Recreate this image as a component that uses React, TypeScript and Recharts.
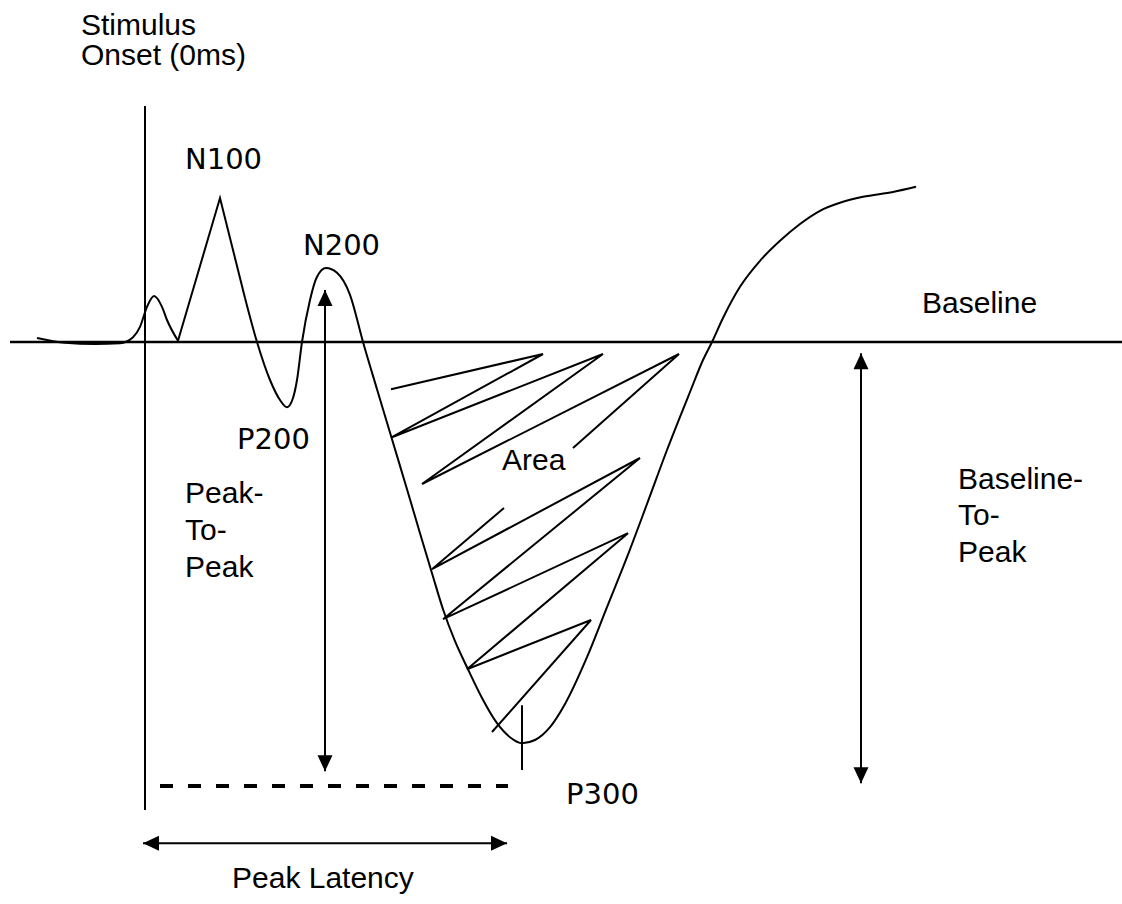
import React from "react";
import { ComposedChart, Line, Scatter, XAxis, YAxis, ReferenceLine } from "recharts";

// x: time from stimulus onset (ms), y: amplitude (µV, negative plotted up)
const preStimulus = [
  { x: -108, y: -0.1 },
  { x: -80, y: 0.02 },
  { x: -50, y: 0.05 },
  { x: -25, y: 0.03 },
  { x: -12, y: -0.12 },
  { x: -5, y: -0.38 },
  { x: 2, y: -0.88 },
  { x: 9, y: -1.15 },
  { x: 17, y: -0.88 },
  { x: 22, y: -0.55 },
  { x: 33, y: -0.03 },
];

const n100Spike = [
  { x: 33, y: -0.03 },
  { x: 75, y: -3.6 },
  { x: 100, y: -1.1 },
];

const lateWave = [
  { x: 100, y: -1.1 },
  { x: 112, y: 0 },
  { x: 125, y: 0.95 },
  { x: 135, y: 1.45 },
  { x: 142, y: 1.63 },
  { x: 148, y: 1.4 },
  { x: 152, y: 0.95 },
  { x: 157, y: 0 },
  { x: 165, y: -1.05 },
  { x: 172, y: -1.63 },
  { x: 181, y: -1.85 },
  { x: 192, y: -1.73 },
  { x: 205, y: -1.18 },
  { x: 218, y: 0 },
  { x: 232, y: 1.18 },
  { x: 247, y: 2.43 },
  { x: 262, y: 3.68 },
  { x: 275, y: 4.78 },
  { x: 287, y: 5.78 },
  { x: 298, y: 6.68 },
  { x: 310, y: 7.48 },
  { x: 322, y: 8.13 },
  { x: 337, y: 8.9 },
  { x: 352, y: 9.53 },
  { x: 365, y: 9.88 },
  { x: 377, y: 10.03 },
  { x: 390, y: 9.95 },
  { x: 405, y: 9.63 },
  { x: 420, y: 9.05 },
  { x: 442, y: 7.88 },
  { x: 462, y: 6.63 },
  { x: 482, y: 5.38 },
  { x: 502, y: 4.05 },
  { x: 522, y: 2.7 },
  { x: 545, y: 1.25 },
  { x: 558, y: 0.45 },
  { x: 567, y: 0 },
  { x: 578, y: -0.6 },
  { x: 595, y: -1.38 },
  { x: 615, y: -2.03 },
  { x: 635, y: -2.53 },
  { x: 655, y: -2.95 },
  { x: 675, y: -3.28 },
  { x: 695, y: -3.48 },
  { x: 718, y: -3.63 },
  { x: 748, y: -3.75 },
  { x: 771, y: -3.88 },
];

// "Area" hatching, drawn as two zig-zag strokes
const hatchUpper = [
  { x: 246, y: 1.18 },
  { x: 398, y: 0.3 },
  { x: 247, y: 2.38 },
  { x: 458, y: 0.3 },
  { x: 277, y: 3.55 },
  { x: 534, y: 0.3 },
  { x: 428, y: 2.65 },
];

const hatchLower = [
  { x: 359, y: 4.15 },
  { x: 287, y: 5.68 },
  { x: 495, y: 2.9 },
  { x: 298, y: 6.93 },
  { x: 483, y: 4.78 },
  { x: 322, y: 8.18 },
  { x: 446, y: 6.95 },
  { x: 347, y: 9.75 },
];

const baselineSeg = [{ x: -135, y: 0 }, { x: 977, y: 0 }];
const onsetSeg = [{ x: 0, y: -5.9 }, { x: 0, y: 11.7 }];
const p300Tick = [{ x: 377, y: 9.08 }, { x: 377, y: 10.7 }];
const peakToPeakArrow = [{ x: 180, y: -1.3 }, { x: 180, y: 10.73 }];
const baselineToPeakArrow = [{ x: 716, y: 0.28 }, { x: 716, y: 11.03 }];
const latencyArrow = [{ x: -2, y: 12.53 }, { x: 362, y: 12.53 }];
const latencyDashes = [{ x: 15, y: 11.1 }, { x: 363, y: 11.1 }];

const textLabels = [
  { x: -64, y: -7.68, text: "Stimulus" },
  { x: -64, y: -6.93, text: "Onset (0ms)" },
  { x: 777, y: -0.73, text: "Baseline" },
  { x: 357, y: 3.2, text: "Area" },
  { x: 40, y: 4.03, text: "Peak-" },
  { x: 40, y: 4.95, text: "To-" },
  { x: 40, y: 5.88, text: "Peak" },
  { x: 813, y: 3.68, text: "Baseline-" },
  { x: 813, y: 4.58, text: "To-" },
  { x: 813, y: 5.5, text: "Peak" },
  { x: 87, y: 13.65, text: "Peak Latency" },
];

const componentLabels = [
  { x: 40, y: -4.33, text: "N100" },
  { x: 158, y: -2.18, text: "N200" },
  { x: 92, y: 2.68, text: "P200" },
  { x: 421, y: 11.55, text: "P300" },
];

const HEAD_LEN = 16;
const HEAD_HALF = 7.5;

function head(tx: number, ty: number, dx: number, dy: number) {
  const bx = tx - dx * HEAD_LEN;
  const by = ty - dy * HEAD_LEN;
  const nx = -dy * HEAD_HALF;
  const ny = dx * HEAD_HALF;
  return `${tx},${ty} ${bx + nx},${by + ny} ${bx - nx},${by - ny}`;
}

function DoubleArrow(props: any) {
  const { x1, y1, x2, y2 } = props;
  const len = Math.hypot(x2 - x1, y2 - y1) || 1;
  const dx = (x2 - x1) / len;
  const dy = (y2 - y1) / len;
  return (
    <g>
      <line x1={x1} y1={y1} x2={x2} y2={y2} stroke="#000" strokeWidth={2} />
      <polygon points={head(x2, y2, dx, dy)} fill="#000" />
      <polygon points={head(x1, y1, -dx, -dy)} fill="#000" />
    </g>
  );
}

const sansText = (props: any) => (
  <text
    x={props.cx}
    y={props.cy}
    fontFamily="'Liberation Sans', Arial, sans-serif"
    fontSize={30}
    fill="#000"
  >
    {props.payload.text}
  </text>
);

const componentText = (props: any) => (
  <text
    x={props.cx}
    y={props.cy}
    fontFamily="'DejaVu Sans', Verdana, sans-serif"
    fontSize={29}
    fill="#000"
  >
    {props.payload.text}
  </text>
);

export default function App() {
  return (
    <div style={{ position: "absolute", left: 0, top: 0, width: 1122, height: 904, background: "#fff" }}>
      <ComposedChart width={1122} height={904} margin={{ top: 0, right: 0, bottom: 0, left: 0 }}>
        <XAxis type="number" dataKey="x" domain={[-145, 977]} allowDataOverflow hide />
        <YAxis type="number" dataKey="y" domain={[-8.55, 14.05]} allowDataOverflow reversed hide />

        <ReferenceLine segment={baselineSeg} stroke="#000" strokeWidth={2.5} />
        <ReferenceLine segment={onsetSeg} stroke="#000" strokeWidth={2} />
        <ReferenceLine segment={p300Tick} stroke="#000" strokeWidth={2} />
        <ReferenceLine segment={latencyDashes} stroke="#000" strokeWidth={4} strokeDasharray="13 15" />
        <ReferenceLine segment={peakToPeakArrow} shape={(p: any) => <DoubleArrow {...p} />} />
        <ReferenceLine segment={baselineToPeakArrow} shape={(p: any) => <DoubleArrow {...p} />} />
        <ReferenceLine segment={latencyArrow} shape={(p: any) => <DoubleArrow {...p} />} />

        <Line data={preStimulus} dataKey="y" type="monotone" stroke="#000" strokeWidth={2} dot={false} activeDot={false} isAnimationActive={false} />
        <Line data={n100Spike} dataKey="y" type="linear" stroke="#000" strokeWidth={2} dot={false} activeDot={false} isAnimationActive={false} />
        <Line data={lateWave} dataKey="y" type="monotone" stroke="#000" strokeWidth={2} dot={false} activeDot={false} isAnimationActive={false} />
        <Line data={hatchUpper} dataKey="y" type="linear" stroke="#000" strokeWidth={2} dot={false} activeDot={false} isAnimationActive={false} />
        <Line data={hatchLower} dataKey="y" type="linear" stroke="#000" strokeWidth={2} dot={false} activeDot={false} isAnimationActive={false} />

        <Scatter data={textLabels} dataKey="y" shape={sansText} isAnimationActive={false} />
        <Scatter data={componentLabels} dataKey="y" shape={componentText} isAnimationActive={false} />
      </ComposedChart>
    </div>
  );
}
